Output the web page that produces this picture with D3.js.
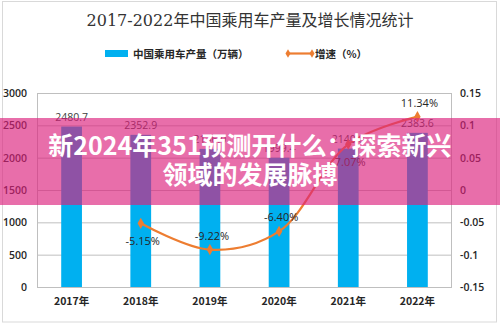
<!DOCTYPE html>
<html>
<head>
<meta charset="utf-8">
<script src="https://cdn.jsdelivr.net/npm/d3@7"></script>
<style>
html,body{margin:0;padding:0;background:#fff;}
svg{display:block;}
</style>
</head>
<body>
<svg id="chart" width="500" height="325"></svg>
<script>
// ---- data ----
const categories = ["2017年","2018年","2019年","2020年","2021年","2022年"];
const production = [2480.7, 2352.9, 2136.0, 1999.4, 2140.8, 2383.6];
const productionLabels = ["2480.7","2352.9","2136.0","1999.4","2140.8","2383.6"];
const growthYears = ["2018年","2019年","2020年","2021年","2022年"];
const growth = [-0.0515, -0.0922, -0.0640, 0.0707, 0.1134];
const growthLabels = ["-5.15%","-9.22%","-6.40%","7.07%","11.34%"];
const leftTicks = [0, 500, 1000, 1500, 2000, 2500, 3000];
const leftTickLabels = ["0","500","1000","1500","2000","2500","3000"];
const rightTicks = [-0.15, -0.1, -0.05, 0, 0.05, 0.1, 0.15];
const rightTickLabels = ["-0.15","-0.1","-0.05","0","0.05","0.1","0.15"];
const titleText = "2017-2022年中国乘用车产量及增长情况统计";
const legendBar = "中国乘用车产量（万辆）";
const legendLine = "增速（%）";
const bannerLines = ["新2024年351预测开什么：探索新兴", "领域的发展脉搏"];

// ---- layout / style (not data) ----
const growthLabelSide = ["below","above","above","below","above"];
const plot = {left:37, right:452, top:93, bottom:287};
const barColor = "#00B0F0";
const lineColor = "#ED7D31";
const gridColor = "#bfbfbf";
const textColor = "#262626";
const numFont = "'Open Sans','Noto Sans CJK SC',sans-serif";
const cjkFont = "'Noto Sans CJK SC',sans-serif";

const svg = d3.select("#chart");

// outer frame
svg.append("rect").attr("x",2.5).attr("y",1.5).attr("width",494).attr("height",320.5)
  .attr("fill","#fff").attr("stroke","#d9d9d9");

// scales
const x = d3.scaleBand().domain(categories).range([plot.left, plot.right])
  .paddingInner(0.7).paddingOuter(0.35);
const yL = d3.scaleLinear().domain([0,3000]).range([plot.bottom, plot.top]);
const yR = d3.scaleLinear().domain([-0.15,0.15]).range([plot.bottom, plot.top]);

// title
svg.append("text").attr("x",250).attr("y",26).attr("text-anchor","middle")
  .attr("font-family","'DejaVu Serif','Liberation Serif','Noto Sans CJK SC',serif")
  .attr("font-size",16).attr("fill","#333").text(titleText);

// legend
const lg = svg.append("g");
lg.append("rect").attr("x",105).attr("y",50).attr("width",23).attr("height",7).attr("fill",barColor);
lg.append("text").attr("x",133).attr("y",57.5).attr("font-family",cjkFont).attr("font-weight","bold")
  .attr("font-size",10.5).attr("fill",textColor).text(legendBar);
lg.append("line").attr("x1",288).attr("x2",312).attr("y1",53.5).attr("y2",53.5)
  .attr("stroke",lineColor).attr("stroke-width",2.2);
[288,312].forEach(px=>{
  lg.append("path").attr("d",d3.symbol(d3.symbolDiamond,22)())
    .attr("transform",`translate(${px},53.5)`).attr("fill",lineColor);
});
lg.append("text").attr("x",315).attr("y",57.5).attr("font-family",cjkFont).attr("font-weight","bold")
  .attr("font-size",10.5).attr("fill",textColor).text(legendLine);

// gridlines
const grid = svg.append("g").attr("transform",`translate(${plot.left},0)`)
  .call(d3.axisLeft(yL).tickValues(leftTicks).tickSize(-(plot.right-plot.left)).tickFormat(""));
grid.select(".domain").remove();
grid.selectAll(".tick line").attr("stroke",gridColor).attr("stroke-width",1);

// plot border verticals
svg.append("line").attr("x1",plot.left+0.5).attr("x2",plot.left+0.5).attr("y1",plot.top).attr("y2",plot.bottom)
  .attr("stroke",gridColor);
svg.append("line").attr("x1",plot.right-0.5).attr("x2",plot.right-0.5).attr("y1",plot.top).attr("y2",plot.bottom)
  .attr("stroke",gridColor);

// left axis labels
const axL = svg.append("g").attr("transform",`translate(${plot.left-7},0)`)
  .call(d3.axisLeft(yL).tickValues(leftTicks).tickSize(0).tickFormat((d,i)=>leftTickLabels[i]));
axL.select(".domain").remove();
axL.selectAll("text").attr("font-family",numFont).attr("font-size",10.5).attr("font-weight",600).attr("fill",textColor);

// right axis labels
const axR = svg.append("g").attr("transform",`translate(${plot.right+5},0)`)
  .call(d3.axisRight(yR).tickValues(rightTicks).tickSize(0).tickFormat((d,i)=>rightTickLabels[i]));
axR.select(".domain").remove();
axR.selectAll("text").attr("font-family",numFont).attr("font-size",10.5).attr("font-weight",600).attr("fill",textColor);

// x axis labels
const axX = svg.append("g").attr("transform",`translate(0,${plot.bottom+8})`)
  .call(d3.axisBottom(x).tickSize(0));
axX.select(".domain").remove();
axX.selectAll("text").attr("font-family",cjkFont).attr("font-size",10.5).attr("font-weight","bold").attr("fill",textColor);

// bars
svg.append("g").selectAll("rect").data(production).join("rect")
  .attr("x",(d,i)=>x(categories[i])).attr("width",x.bandwidth())
  .attr("y",d=>yL(d)).attr("height",d=>yL(0)-yL(d)).attr("fill",barColor);

// bar labels
svg.append("g").selectAll("text").data(production).join("text")
  .attr("x",(d,i)=>x(categories[i])+x.bandwidth()/2).attr("y",d=>yL(d)-6)
  .attr("text-anchor","middle").attr("font-family",numFont).attr("font-size",10.5)
  .attr("fill","#404040").text((d,i)=>productionLabels[i]);

// growth line
const pts = growth.map((g,i)=>[x(growthYears[i])+x.bandwidth()/2, yR(g)]);
svg.append("path").attr("d",d3.line().curve(d3.curveCatmullRom.alpha(0.5))(pts))
  .attr("fill","none").attr("stroke",lineColor).attr("stroke-width",2.2);
svg.append("g").selectAll("path").data(pts).join("path")
  .attr("d",d3.symbol(d3.symbolDiamond,36)()).attr("transform",d=>`translate(${d[0]},${d[1]})`)
  .attr("fill",lineColor);

// growth labels
svg.append("g").selectAll("text").data(growth).join("text")
  .attr("x",(d,i)=>pts[i][0]+2)
  .attr("y",(d,i)=>growthLabelSide[i]==="above" ? pts[i][1]-10 : pts[i][1]+22)
  .attr("text-anchor","middle").attr("font-family",numFont).attr("font-size",11)
  .attr("fill","#262626").text((d,i)=>growthLabels[i]);

// overlay banner
svg.append("rect").attr("x",0).attr("y",118).attr("width",500).attr("height",87)
  .attr("fill","rgb(220,32,125)").attr("fill-opacity",0.65);
svg.append("g").selectAll("text").data(bannerLines).join("text")
  .attr("x",250).attr("y",(d,i)=>155+i*29).attr("text-anchor","middle")
  .attr("font-family","'Noto Sans CJK SC',sans-serif").attr("font-weight","bold")
  .attr("font-size",25).attr("fill","#fff").text(d=>d);
</script>
</body>
</html>
